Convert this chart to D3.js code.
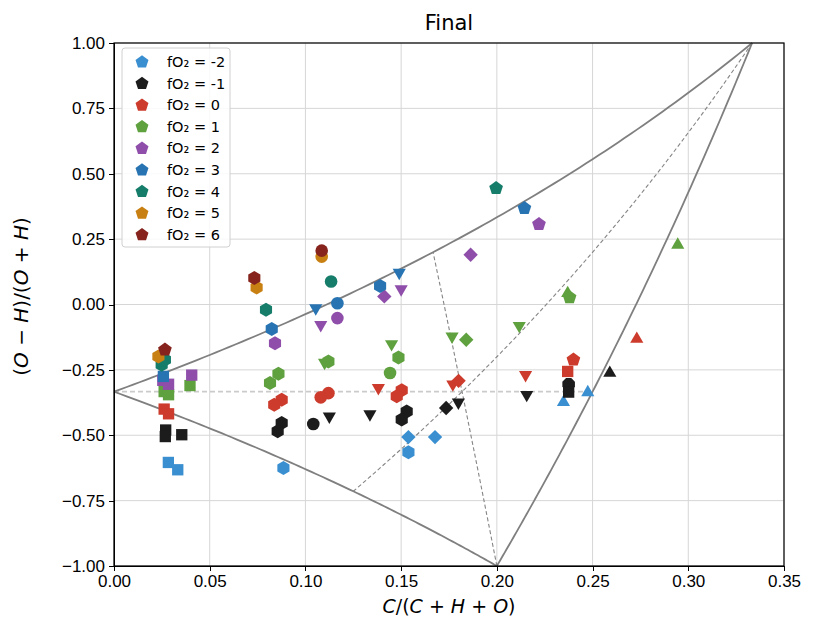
<!DOCTYPE html>
<meta charset="utf-8">
<style>
  body { margin: 0; background: #fff; }
  svg { font-family: "DejaVu Sans", sans-serif; background: #fff; }
  .axis text { font-size: 17px; fill: #000; }
  .axis path, .axis line { stroke: #000; shape-rendering: crispEdges; }
  .grid line { stroke: #d6d6d6; stroke-width: 1; }
  .legend text { font-size: 14.5px; fill: #000; }
</style>
<div id="chart"></div>
<script src="https://cdn.jsdelivr.net/npm/d3@7"></script>
<script>
  // fO2 levels and their colours
  var fo2Levels = [-2, -1, 0, 1, 2, 3, 4, 5, 6];
  var fo2Colors = ["#3a8fd1", "#1c1c1c", "#cc3b2c", "#5fa13f", "#8e4eaa",
                   "#2874b2", "#167d6b", "#c98012", "#85231c"];

  var xTicks = [0, 0.05, 0.10, 0.15, 0.20, 0.25, 0.30, 0.35];
  var yTicks = [-1, -0.75, -0.5, -0.25, 0, 0.25, 0.5, 0.75, 1];

  // end members as [C, H, O]
  var H2O = [0, 2, 1], CO2 = [1, 0, 2], CH4 = [1, 4, 0];

  // points: [C/(C+H+O), (O-H)/(O+H), marker]
  var ptsM2 = [[0.0284, -0.604, "s"], [0.0333, -0.632, "s"], [0.0885, -0.625, "h"],
               [0.1538, -0.507, "D"], [0.1677, -0.507, "D"], [0.1538, -0.565, "h"],
               [0.2348, -0.374, "^"], [0.2475, -0.336, "^"]];
  var ptsM1 = [[0.0270, -0.480, "s"], [0.0268, -0.505, "s"], [0.0354, -0.498, "s"],
               [0.0876, -0.453, "h"], [0.0855, -0.485, "h"], [0.1041, -0.457, "o"],
               [0.1125, -0.428, "v"], [0.1337, -0.419, "v"], [0.1529, -0.409, "h"],
               [0.1503, -0.440, "h"], [0.1735, -0.396, "D"], [0.1799, -0.374, "v"],
               [0.2156, -0.345, "v"], [0.2375, -0.305, "8"], [0.2375, -0.335, "s"],
               [0.2590, -0.262, "^"]];
  var pts0 = [[0.0262, -0.400, "s"], [0.0285, -0.418, "s"], [0.0876, -0.364, "h"],
              [0.0837, -0.383, "h"], [0.1120, -0.339, "o"], [0.1080, -0.355, "o"],
              [0.1381, -0.319, "v"], [0.1503, -0.328, "h"], [0.1477, -0.351, "h"],
              [0.1770, -0.305, "v"], [0.1800, -0.292, "D"], [0.2150, -0.269, "v"],
              [0.2370, -0.256, "s"], [0.2400, -0.211, "p"], [0.2731, -0.132, "^"]];
  var pts1 = [[0.0262, -0.333, "s"], [0.0285, -0.345, "s"], [0.0397, -0.310, "s"],
              [0.0859, -0.265, "h"], [0.0815, -0.300, "h"], [0.1100, -0.222, "v"],
              [0.1120, -0.218, "h"], [0.1450, -0.151, "v"], [0.1486, -0.203, "h"],
              [0.1442, -0.262, "o"], [0.1766, -0.122, "v"], [0.1840, -0.135, "D"],
              [0.2117, -0.081, "v"], [0.2370, 0.043, "^"], [0.2380, 0.027, "p"],
              [0.2945, 0.228, "^"]];
  var pts2 = [[0.0255, -0.290, "s"], [0.0285, -0.305, "s"], [0.0406, -0.270, "s"],
              [0.0841, -0.148, "h"], [0.1080, -0.078, "v"], [0.1167, -0.052, "o"],
              [0.1412, 0.031, "D"], [0.1500, 0.059, "v"], [0.1863, 0.190, "D"],
              [0.2220, 0.307, "p"]];
  var pts3 = [[0.0258, -0.275, "s"], [0.0824, -0.094, "h"], [0.1054, -0.014, "v"],
              [0.1167, 0.005, "o"], [0.1390, 0.071, "h"], [0.1490, 0.122, "v"],
              [0.2144, 0.368, "p"]];
  var pts4 = [[0.0249, -0.230, "h"], [0.0266, -0.211, "h"], [0.0794, -0.020, "h"],
              [0.1134, 0.088, "o"], [0.1996, 0.445, "p"]];
  var pts5 = [[0.0232, -0.199, "h"], [0.0745, 0.065, "h"], [0.1085, 0.183, "o"]];
  var pts6 = [[0.0266, -0.173, "p"], [0.0733, 0.101, "h"], [0.1085, 0.206, "o"]];

  var series = [ptsM2, ptsM1, pts0, pts1, pts2, pts3, pts4, pts5, pts6];

  var W = 813, H = 623;
  var margin = {top: 43, right: 29, bottom: 57, left: 114};
  var width = W - margin.left - margin.right,
      height = H - margin.top - margin.bottom;

  var x = d3.scaleLinear().domain([0, 0.35]).range([0, width]);
  var y = d3.scaleLinear().domain([-1, 1]).range([height, 0]);

  var svg = d3.select("#chart").append("svg")
      .attr("width", W).attr("height", H);
  var g = svg.append("g")
      .attr("transform", "translate(" + margin.left + "," + margin.top + ")");

  // grid
  g.append("g").attr("class", "grid")
    .selectAll("line.gx").data(xTicks).enter().append("line")
    .attr("x1", function(d) { return x(d); }).attr("x2", function(d) { return x(d); })
    .attr("y1", 0).attr("y2", height);
  g.append("g").attr("class", "grid")
    .selectAll("line.gy").data(yTicks).enter().append("line")
    .attr("y1", function(d) { return y(d); }).attr("y2", function(d) { return y(d); })
    .attr("x1", 0).attr("x2", width);

  // mixing curves between end members
  function mix(A, B, t) {
    var c = A[0] * (1 - t) + B[0] * t,
        h = A[1] * (1 - t) + B[1] * t,
        o = A[2] * (1 - t) + B[2] * t;
    return [c / (c + h + o), (o - h) / (o + h)];
  }
  function half(A, B) { return A.map(function(v, i) { return (v + B[i]) / 2; }); }
  function curve(A, B) {
    return d3.range(0, 1.0001, 0.01).map(function(t) { return mix(A, B, t); });
  }
  var line = d3.line().x(function(d) { return x(d[0]); }).y(function(d) { return y(d[1]); });

  g.append("path").datum(curve(H2O, half(CO2, CH4)))
    .attr("d", line).attr("fill", "none")
    .attr("stroke", "#cbcbcb").attr("stroke-width", 1.8).attr("stroke-dasharray", "5,3");
  [[CO2, half(CH4, H2O)], [CH4, half(CO2, H2O)]].forEach(function(p) {
    g.append("path").datum(curve(p[0], p[1]))
      .attr("d", line).attr("fill", "none")
      .attr("stroke", "#858585").attr("stroke-width", 1.1).attr("stroke-dasharray", "4,2.5");
  });
  [[H2O, CO2], [H2O, CH4], [CH4, CO2]].forEach(function(p) {
    g.append("path").datum(curve(p[0], p[1]))
      .attr("d", line).attr("fill", "none")
      .attr("stroke", "#7f7f7f").attr("stroke-width", 1.8);
  });

  // marker shapes
  function poly(n, r, rot) {
    var pts = d3.range(n).map(function(i) {
      var a = rot + i * 2 * Math.PI / n;
      return [r * Math.sin(a), -r * Math.cos(a)];
    });
    return "M" + pts.map(function(p) { return p[0].toFixed(2) + "," + p[1].toFixed(2); }).join("L") + "Z";
  }
  var shapes = {
    s: poly(4, 8, Math.PI / 4),
    D: poly(4, 7.2, 0),
    h: poly(6, 7, 0),
    p: poly(5, 7.2, 0),
    o: d3.symbol().type(d3.symbolCircle).size(125)(),
    v: poly(3, 7.6, Math.PI),
    "^": poly(3, 7.6, 0),
    "8": poly(8, 6.8, Math.PI / 8)
  };

  series.forEach(function(pts, i) {
    g.append("g").selectAll("path").data(pts).enter().append("path")
      .attr("d", function(d) { return shapes[d[2]]; })
      .attr("transform", function(d) { return "translate(" + x(d[0]) + "," + y(d[1]) + ")"; })
      .attr("fill", fo2Colors[i]);
  });

  // axes and frame
  g.append("g").attr("class", "axis")
    .attr("transform", "translate(0," + height + ")")
    .call(d3.axisBottom(x).tickValues(xTicks).tickFormat(d3.format(".2f")).tickSize(5).tickPadding(4));
  g.append("g").attr("class", "axis")
    .call(d3.axisLeft(y).tickValues(yTicks).tickFormat(d3.format(".2f")).tickSize(5).tickPadding(4));
  g.append("rect").attr("width", width).attr("height", height)
    .attr("fill", "none").attr("stroke", "#000").attr("stroke-width", 1.2);

  // legend
  var leg = g.append("g").attr("class", "legend").attr("transform", "translate(8,5)");
  leg.append("rect").attr("width", 108).attr("height", 199).attr("rx", 3)
    .attr("fill", "#fff").attr("fill-opacity", 0.85).attr("stroke", "#d0d0d0");
  fo2Levels.forEach(function(v, i) {
    var row = leg.append("g").attr("transform", "translate(0," + (14 + i * 21.6) + ")");
    row.append("path").attr("d", poly(5, 6.8, 0)).attr("transform", "translate(20,0)")
      .attr("fill", fo2Colors[i]);
    row.append("text").attr("x", 45).attr("dy", "0.35em").text("fO\u2082 = " + v);
  });

  // title and labels
  svg.append("text").attr("x", margin.left + width / 2).attr("y", 30)
    .attr("text-anchor", "middle").style("font-size", "21px").text("Final");

  var xl = svg.append("text").attr("x", margin.left + width / 2).attr("y", 613)
    .attr("text-anchor", "middle").style("font-size", "19px");
  [["C", 1], ["/(", 0], ["C", 1], [" + ", 0], ["H", 1], [" + ", 0], ["O", 1], [")", 0]].forEach(function(p) {
    xl.append("tspan").style("font-style", p[1] ? "italic" : "normal").text(p[0]);
  });

  var yl = svg.append("text").attr("transform", "translate(28," + (margin.top + height / 2 - 8) + ") rotate(-90)")
    .attr("text-anchor", "middle").style("font-size", "20px");
  [["(", 0], ["O", 1], [" \u2212 ", 0], ["H", 1], [")/(", 0], ["O", 1], [" + ", 0], ["H", 1], [")", 0]].forEach(function(p) {
    yl.append("tspan").style("font-style", p[1] ? "italic" : "normal").text(p[0]);
  });
</script>
